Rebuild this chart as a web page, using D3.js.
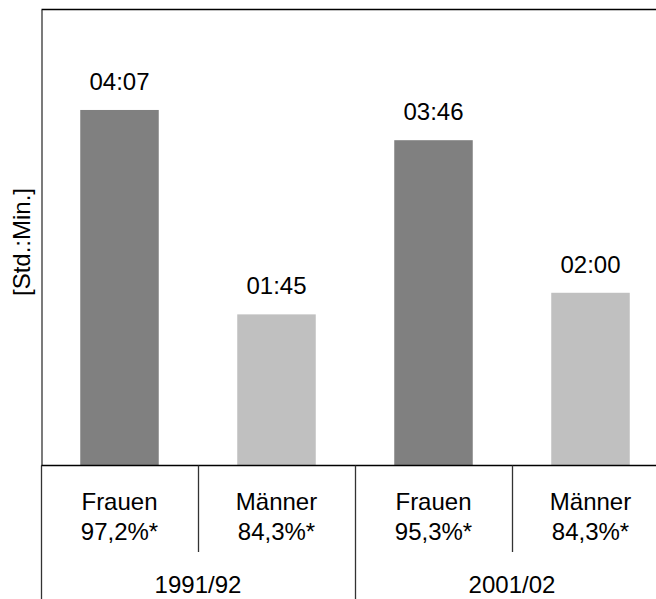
<!DOCTYPE html>
<html>
<head>
<meta charset="utf-8">
<script src="https://cdn.jsdelivr.net/npm/d3@7"></script>
<style>
  html, body { margin: 0; padding: 0; background: #fff; }
  svg { display: block; font-family: "Liberation Sans", Arial, sans-serif; }
</style>
</head>
<body>
<svg id="chart" width="656" height="599"></svg>
<script>
// Data
const categories = ["F1991", "M1991", "F2001", "M2001"];
const genders = ["Frauen", "Männer", "Frauen", "Männer"];
const shares = ["97,2%*", "84,3%*", "95,3%*", "84,3%*"];
const years = ["1991/92", "2001/02"];
const minutes = [247, 105, 226, 120];
const valueLabels = ["04:07", "01:45", "03:46", "02:00"];
const barColors = ["#808080", "#c0c0c0", "#808080", "#c0c0c0"];
const yAxisTitle = "[Std.:Min.]";

(function () {
const svg = d3.select("#chart");
const W = 656, H = 599;
const plotLeft = 41.5, plotTop = 9.5, baseY = 465.5;

const x = d3.scaleBand().domain(categories).range([41, 669])
  .paddingInner(0.5).paddingOuter(0.25);
const y = d3.scaleLinear().domain([0, 316.8]).range([baseY, plotTop]);

// bars
svg.append("g").selectAll("rect").data(categories).join("rect")
  .attr("x", d => x(d))
  .attr("width", x.bandwidth())
  .attr("y", (d, i) => y(minutes[i]))
  .attr("height", (d, i) => y(0) - y(minutes[i]))
  .attr("fill", (d, i) => barColors[i]);

// value labels
svg.append("g").selectAll("text").data(categories).join("text")
  .attr("x", d => x(d) + x.bandwidth() / 2)
  .attr("y", (d, i) => y(minutes[i]) - 20)
  .attr("text-anchor", "middle")
  .attr("font-size", 24)
  .attr("fill", "#000")
  .text((d, i) => valueLabels[i]);

// top frame line
svg.append("line").attr("x1", plotLeft).attr("x2", W).attr("y1", plotTop).attr("y2", plotTop)
  .attr("stroke", "#000").attr("stroke-width", 1.3);

// left axis (no ticks)
const yAxis = svg.append("g").attr("transform", `translate(${plotLeft},0)`)
  .call(d3.axisLeft(y).tickValues([]).tickSizeOuter(0));
yAxis.select(".domain").attr("stroke", "#333").attr("stroke-width", 1.3);
svg.append("line").attr("x1", plotLeft).attr("x2", plotLeft).attr("y1", baseY).attr("y2", H)
  .attr("stroke", "#333").attr("stroke-width", 1.3);

// baseline
svg.append("line").attr("x1", plotLeft).attr("x2", W).attr("y1", baseY).attr("y2", baseY)
  .attr("stroke", "#000").attr("stroke-width", 1.3);

// dividers
const step = x.step();
categories.forEach((c, i) => {
  if (i === 0) return;
  const xx = Math.round(x(c) - (step - x.bandwidth()) / 2) + 0.5;
  const yearDiv = (i % 2 === 0);
  svg.append("line").attr("x1", xx).attr("x2", xx)
    .attr("y1", baseY).attr("y2", yearDiv ? H : 552)
    .attr("stroke", "#333").attr("stroke-width", 1.3);
});

// category labels
const catG = svg.append("g").attr("font-size", 24).attr("text-anchor", "middle").attr("fill", "#000");
categories.forEach((c, i) => {
  const cx = x(c) + x.bandwidth() / 2;
  catG.append("text").attr("x", cx).attr("y", 510).text(genders[i]);
  catG.append("text").attr("x", cx).attr("y", 540).text(shares[i]);
});
years.forEach((yr, j) => {
  const c0 = categories[j * 2], c1 = categories[j * 2 + 1];
  const cx = (x(c0) + x(c1) + x.bandwidth()) / 2;
  catG.append("text").attr("x", cx).attr("y", 593).text(yr);
});

// y axis title
svg.append("text")
  .attr("transform", `translate(30,242) rotate(-90)`)
  .attr("text-anchor", "middle")
  .attr("font-size", 24)
  .attr("fill", "#000")
  .text(yAxisTitle);
})();
</script>
</body>
</html>
